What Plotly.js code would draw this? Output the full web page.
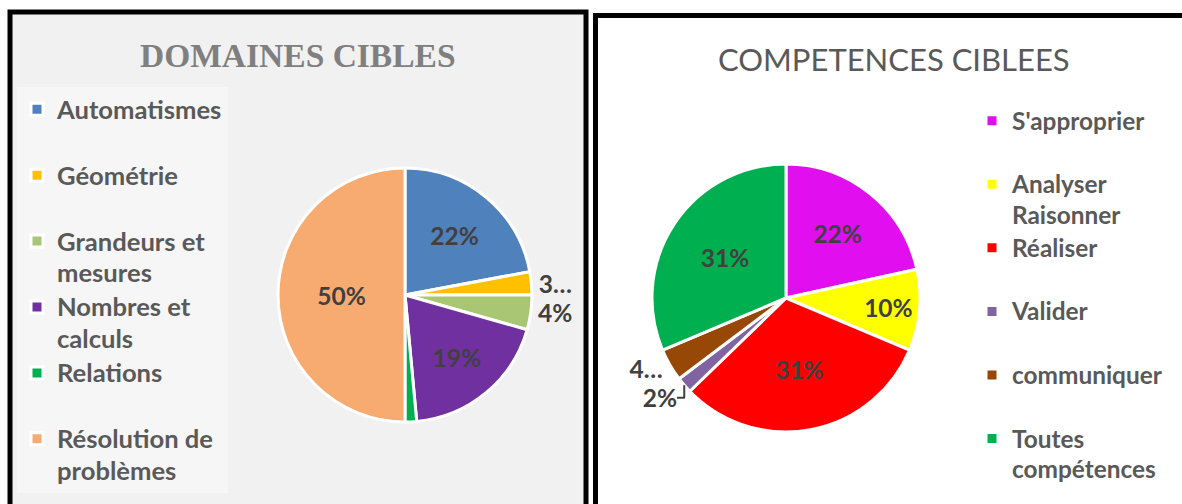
<!DOCTYPE html>
<html>
<head>
<meta charset="utf-8">
<script src="https://cdn.plot.ly/plotly-3.0.1.min.js"></script>
<style>html,body{margin:0;padding:0;background:#fff;}#chart{width:1182px;height:504px;}</style>
</head>
<body>
<div id="chart"></div>
<script>
// ---- Data ----
const domainTitle = "DOMAINES CIBLES";
const domainLabels = ["Automatismes", "Géométrie", "Grandeurs et<br>mesures", "Nombres et<br>calculs", "Relations", "Résolution de<br>problèmes"];
const domainValues = [15, 2, 3, 13, 1, 34];
const domainColors = ["#4f81bd", "#ffc000", "#a9c675", "#7030a0", "#00b050", "#f8ab70"];
const domainTemplates = ["%{percent:.0%}", "3…", "%{percent:.0%}", "%{percent:.0%}", "", "%{percent:.0%}"];
const domainTextPos = ["inside", "outside", "outside", "inside", "none", "inside"];

const compTitle = "COMPETENCES CIBLEES";
const compLabels = ["S'approprier", "Analyser<br>Raisonner", "Réaliser", "Valider", "communiquer", "Toutes<br>compétences"];
const compValues = [11, 5, 16, 1, 2, 16];
const compColors = ["#e10ff0", "#ffff00", "#ff0000", "#8064a2", "#974706", "#00b050"];
const compTemplates = ["%{percent:.0%}", "%{percent:.0%}", "%{percent:.0%}", "%{percent:.0%}", "4…", "%{percent:.0%}"];
const compTextPos = ["inside", "inside", "inside", "outside", "outside", "inside"];

// ---- Layout helpers ----
const W = 1182, H = 504;
const px = v => v / W;
const py = v => 1 - v / H;
// every legend entry occupies two lines (equal spacing like the original); glyphs drawn slightly larger
const legendText = (arr, size) => arr.map(l => {
  const lines = l.split("<br>");
  if (lines.length < 2) lines.push("\u00a0");
  return lines.map(s => '<span style="font-size:' + size + 'px">' + s + '</span>').join("<br>");
});

const labelFont = {family: "Lato, 'DejaVu Sans', sans-serif", size: 24.5, color: "#404040", weight: 700};

const traces = [
  {
    type: "pie",
    labels: legendText(domainLabels, 25.6),
    values: domainValues,
    sort: false,
    direction: "clockwise",
    rotation: 0,
    marker: {colors: domainColors, line: {color: "#ffffff", width: 3}},
    texttemplate: domainTemplates,
    textposition: domainTextPos,
    insidetextorientation: "horizontal",
    textfont: labelFont,
    insidetextfont: labelFont,
    outsidetextfont: labelFont,
    domain: {x: [px(278), px(532)], y: [py(422), py(168)]},
    hoverinfo: "percent",
    legend: "legend"
  },
  {
    type: "pie",
    labels: legendText(compLabels, 24.4),
    values: compValues,
    sort: false,
    direction: "clockwise",
    rotation: 0,
    marker: {colors: compColors, line: {color: "#ffffff", width: 3}},
    texttemplate: compTemplates,
    textposition: compTextPos,
    insidetextorientation: "horizontal",
    textfont: labelFont,
    insidetextfont: labelFont,
    outsidetextfont: labelFont,
    domain: {x: [px(652), px(920)], y: [py(432), py(164)]},
    hoverinfo: "percent",
    legend: "legend2"
  }
];

const layout = {
  width: W, height: H,
  margin: {l: 0, r: 0, t: 0, b: 0},
  paper_bgcolor: "#ffffff",
  showlegend: true,
  legend: {
    x: px(17), xanchor: "left", y: py(87), yanchor: "top",
    bgcolor: "#f6f6f6", borderwidth: 0, valign: "top", traceorder: "normal",
    font: {family: "Lato, 'DejaVu Sans', sans-serif", size: 24.2, color: "#595959", weight: 700}
  },
  legend2: {
    x: px(972), xanchor: "left", y: py(99), yanchor: "top",
    bgcolor: "rgba(0,0,0,0)", borderwidth: 0, valign: "top", traceorder: "normal",
    font: {family: "Lato, 'DejaVu Sans', sans-serif", size: 23.3, color: "#595959", weight: 700}
  },
  shapes: [
    {type: "rect", xref: "paper", yref: "paper", layer: "below",
     x0: px(10), x1: px(586), y0: py(520), y1: py(12),
     fillcolor: "#f1f1f1", line: {color: "#000000", width: 5}},
    {type: "rect", xref: "paper", yref: "paper", layer: "below",
     x0: px(595.5), x1: px(1195), y0: py(520), y1: py(15.5),
     fillcolor: "#ffffff", line: {color: "#000000", width: 5}}
  ],
  annotations: [
    {text: domainTitle, xref: "paper", yref: "paper", x: px(298), y: py(55),
     xanchor: "center", yanchor: "middle", showarrow: false,
     font: {family: "'Liberation Serif', 'DejaVu Serif', serif", size: 33.5, color: "#7f7f7f", weight: 700}},
    {text: compTitle, xref: "paper", yref: "paper", x: px(894), y: py(59),
     xanchor: "center", yanchor: "middle", showarrow: false,
     font: {family: "Lato, 'DejaVu Sans', sans-serif", size: 31, color: "#595959", weight: 400}}
  ]
};

Plotly.newPlot("chart", traces, layout, {displayModeBar: false, staticPlot: true});
</script>
</body>
</html>
